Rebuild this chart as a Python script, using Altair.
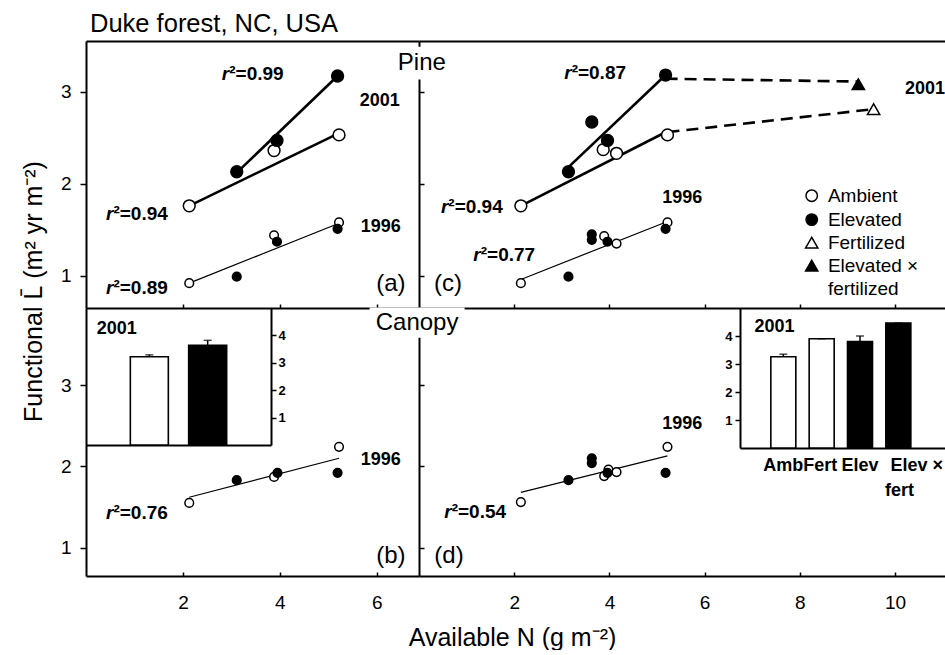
import altair as alt
import pandas as pd

FONT = "Liberation Sans"

# ================= data =================
# ---- (a) Pine, ambient vs elevated CO2 ----
a96_amb_x = [2.13, 3.88, 5.22]
a96_amb_y = [0.92, 1.44, 1.58]
a96_elev_x = [3.11, 3.94, 5.19]
a96_elev_y = [0.99, 1.37, 1.51]
a01_amb_x = [2.13, 3.88, 5.22]
a01_amb_y = [1.76, 2.36, 2.53]
a01_elev_x = [3.11, 3.94, 5.19]
a01_elev_y = [2.13, 2.47, 3.17]
a_fit96_x, a_fit96_y = [2.13, 5.22], [0.92, 1.57]
a_fit01amb_x, a_fit01amb_y = [2.13, 5.22], [1.76, 2.55]
a_fit01elev_x, a_fit01elev_y = [3.11, 5.19], [2.12, 3.17]

# ---- (c) Pine, CO2 x fertilization ----
c96_amb_x = [2.14, 3.89, 4.15, 5.22]
c96_amb_y = [0.92, 1.43, 1.35, 1.58]
c96_elev_x = [3.14, 3.63, 3.63, 3.96, 5.18]
c96_elev_y = [0.99, 1.45, 1.39, 1.37, 1.51]
c01_amb_x = [2.14, 3.87, 4.15, 5.22]
c01_amb_y = [1.76, 2.37, 2.33, 2.53]
c01_elev_x = [3.14, 3.63, 3.96, 5.18]
c01_elev_y = [2.13, 2.67, 2.47, 3.18]
c01_fert_x, c01_fert_y = [9.55], [2.81]
c01_ef_x, c01_ef_y = [9.23], [3.08]
c_fit96_x, c_fit96_y = [2.14, 5.22], [0.96, 1.59]
c_fit01amb_x, c_fit01amb_y = [2.14, 5.22], [1.76, 2.57]
c_fit01elev_x, c_fit01elev_y = [3.08, 5.18], [2.15, 3.18]
c_dash_amb_x, c_dash_amb_y = [5.22, 9.55], [2.56, 2.81]
c_dash_elev_x, c_dash_elev_y = [5.18, 9.23], [3.14, 3.11]

# ---- (b) Canopy, ambient vs elevated ----
b96_amb_x = [2.13, 3.88, 5.22]
b96_amb_y = [1.55, 1.87, 2.24]
b96_elev_x = [3.11, 3.95, 5.19]
b96_elev_y = [1.83, 1.92, 1.92]
b_fit96_x, b_fit96_y = [2.13, 5.22], [1.62, 2.10]

# ---- (d) Canopy, CO2 x fertilization ----
d96_amb_x = [2.14, 3.89, 3.98, 4.15, 5.22]
d96_amb_y = [1.56, 1.88, 1.96, 1.93, 2.24]
d96_elev_x = [3.14, 3.63, 3.63, 3.96, 5.18]
d96_elev_y = [1.83, 2.10, 2.04, 1.92, 1.92]
d_fit96_x, d_fit96_y = [2.14, 5.22], [1.68, 2.13]

# ---- insets (2001 canopy) ----
b_ins_pos = [1, 2]
b_ins_val = [3.22, 3.64]
b_ins_top = [3.29, 3.82]
b_ins_fill = ["white", "black"]

d_ins_pos = [1, 2, 3, 4]
d_ins_val = [3.26, 3.90, 3.80, 4.46]
d_ins_top = [3.35, 3.90, 4.00, 4.46]
d_ins_fill = ["white", "white", "black", "black"]
d_ins_labels = ["Amb", "Fert", "Elev", "Elev ×", "fert"]
d_ins_label_x = [1.0, 1.96, 3.0, 4.48, 4.03]
d_ins_label_y = [-0.64, -0.64, -0.64, -0.64, -1.54]

# ---- annotations (text, x, y) in data units ----
a_r2 = [("0.99", 3.44, 3.19), ("0.94", 1.05, 1.67), ("0.89", 1.05, 0.87)]
a_year = [("2001", 6.06, 2.90), ("1996", 6.08, 1.53)]
a_letter = [("(a)", 6.29, 0.91)]
c_r2 = [("0.87", 3.70, 3.20), ("0.94", 1.11, 1.75), ("0.77", 1.79, 1.23)]
c_year = [("1996", 5.53, 1.85)]
c_year_cut = [("2001", 10.63, 3.03)]
c_letter = [("(c)", 0.61, 0.91)]
c_head = [("Pine", 0.06, 3.31)]
b_r2 = [("0.76", 1.05, 1.43)]
b_year = [("1996", 6.08, 2.08)]
b_letter = [("(b)", 6.29, 0.90)]
d_r2 = [("0.54", 1.18, 1.44)]
d_year = [("1996", 5.53, 2.52)]
d_letter = [("(d)", 0.63, 0.90)]
d_head = [("Canopy", -0.04, 3.77)]

leg_trt = ["Ambient", "Elevated", "Fertilized", "Elevated × fertilized"]
leg_sym_x = 8.25
leg_sym_y = [1.87, 1.61, 1.36, 1.11]
leg_text = ["Ambient", "Elevated", "Fertilized", "Elevated ×", "fertilized"]
leg_text_x = 8.59
leg_text_y = [1.87, 1.61, 1.36, 1.11, 0.86]

Y_TITLE = "Functional L̄ (m² yr m⁻²)"
X_TITLE = "Available N (g m⁻²)"
MAIN_TITLE = "Duke forest, NC, USA"

# ================= helpers =================
FILL = {"Ambient": "white", "Elevated": "black", "Fertilized": "white",
        "Elevated × fertilized": "black"}
SHAPE = {"Ambient": "circle", "Elevated": "circle", "Fertilized": "triangle-up",
         "Elevated × fertilized": "triangle-up"}
SIZE = {"1996": 75, "2001": 140, "leg": 130}
TRI_SIZE = 150

VW, VH = 859, 535          # whole plotting area
W1, H1 = 333, 267          # left column width / top row height


def sc(dom, rng):
    return alt.Scale(domain=dom, range=rng, nice=False, zero=False)


XS_L = sc([0, 6.87], [0, W1])
XS_R = sc([0, 11.05], [W1, VW])
YS_T = sc([0.65, 3.55], [H1, 0])
YS_B = sc([0.65, 3.95], [VH, H1])


def pts(groups):
    rows = []
    for xs, ys, trt, yr in groups:
        for x, y in zip(xs, ys):
            sz = SIZE[yr] if SHAPE[trt] == "circle" else TRI_SIZE
            rows.append({"x": x, "y": y, "fill": FILL[trt], "shape": SHAPE[trt], "size": sz})
    return pd.DataFrame(rows)


def lines(groups):
    rows = []
    for i, (xs, ys) in enumerate(groups):
        for x, y in zip(xs, ys):
            rows.append({"x": x, "y": y, "grp": i})
    return pd.DataFrame(rows)


def tdf(items, prefix=""):
    return pd.DataFrame([{"label": prefix + l, "x": x, "y": y} for l, x, y in items])


DOM = dict(domainColor="black", domainWidth=2, grid=False)
TITLE_STYLE = dict(titleFontSize=25, titleFontWeight="normal", titleFont=FONT,
                   titleColor="black", titleAlign="center", titleBaseline="middle")


def ax_top(vals, off, ticks=True, domain=True):
    kw = dict(orient="top", offset=off, labels=False, domain=domain, title=None, **DOM)
    if ticks:
        kw.update(values=vals, tickSize=4, tickWidth=1.5, tickColor="black")
    else:
        kw.update(ticks=False)
    return alt.Axis(**kw)


def ax_bottom_lab(vals, with_title=False):
    kw = dict(orient="bottom", values=vals, ticks=False, tickSize=0, labelFontSize=19,
              labelPadding=17, labelColor="black", labelFont=FONT, labelFlush=False,
              domain=True, **DOM)
    if with_title:
        kw.update(title=X_TITLE, titleX=426, titleY=61, titleAngle=0, **TITLE_STYLE)
    else:
        kw.update(title=None)
    return alt.Axis(**kw)


def ax_left_lab(with_title=False):
    kw = dict(orient="left", values=[1, 2, 3], tickSize=6, tickWidth=1.5,
              tickColor="black", labelFontSize=19, labelPadding=9, labelColor="black",
              labelFont=FONT, domain=True, **DOM)
    if with_title:
        kw.update(title=Y_TITLE, titleX=-53, titleY=250, titleAngle=270, **TITLE_STYLE)
    else:
        kw.update(title=None)
    return alt.Axis(**kw)


def ax_right_in():
    return alt.Axis(orient="right", offset=-(VW - W1), values=[1, 2, 3], labels=False,
                    tickSize=5, tickWidth=1.5, tickColor="black", domain=True, title=None,
                    **DOM)


R2_DX = -23.5   # shift so that "r" + "²=value" is centred on the anchor


def panel(xs, ys, axx_line, axx_pts, axy, thin, thick, dashed, points, r2, texts, extra=()):
    def X(ax):
        return alt.X("x:Q", scale=xs, axis=ax)

    def Y(ax):
        return alt.Y("y:Q", scale=ys, axis=ax)

    layers = [alt.Chart(thin).mark_line(color="black", strokeWidth=1.2)
              .encode(x=X(axx_line), y=Y(None), detail="grp:N")]
    if thick is not None:
        layers.append(alt.Chart(thick).mark_line(color="black", strokeWidth=2.6)
                      .encode(x=X(None), y=Y(None), detail="grp:N"))
    if dashed is not None:
        layers.append(alt.Chart(dashed).mark_line(color="black", strokeWidth=2.6,
                                                  strokeDash=[12, 7])
                      .encode(x=X(None), y=Y(None), detail="grp:N"))
    layers.append(alt.Chart(points).mark_point(filled=True, stroke="black", strokeWidth=1.5,
                                               opacity=1)
                  .encode(x=X(axx_pts), y=Y(axy),
                          fill=alt.Fill("fill:N", scale=None),
                          shape=alt.Shape("shape:N", scale=None),
                          size=alt.Size("size:Q", scale=None)))
    # r² labels: italic "r" followed by upright "²=value"
    rdf = tdf(r2, prefix="²=")
    layers.append(alt.Chart(rdf).mark_text(font=FONT, color="black", fontSize=19,
                                           fontWeight="bold", fontStyle="italic",
                                           align="right", baseline="middle", dx=R2_DX)
                  .encode(x=X(None), y=Y(None), text=alt.value("r")))
    layers.append(alt.Chart(rdf).mark_text(font=FONT, color="black", fontSize=19,
                                           fontWeight="bold", align="left",
                                           baseline="middle", dx=R2_DX)
                  .encode(x=X(None), y=Y(None), text="label:N"))
    for df, kw in texts:
        if kw.get("box"):
            b = kw["box"]
            layers.append(alt.Chart(df).mark_point(shape=b[0], size=b[1], filled=True,
                                                   fill="white", strokeWidth=0, opacity=1)
                          .encode(x=X(None), y=Y(None)))
            kw = {k: v for k, v in kw.items() if k != "box"}
        base = dict(font=FONT, color="black", align="center", baseline="middle")
        base.update(kw)
        layers.append(alt.Chart(df).mark_text(**base)
                      .encode(x=X(None), y=Y(None), text="label:N"))
    layers.extend(extra)
    return alt.layer(*layers).resolve_axis(x="independent", y="independent")


YR = dict(fontSize=18, fontWeight="bold")
LET = dict(fontSize=24, fontWeight="normal")
PINE_BOX = ("M-1,-0.61H1V0.61H-1Z", 2916)
CAN_BOX = ("M-1,-0.32H1V0.32H-1Z", 9025)

# ================= panel (a) =================
pa = panel(
    XS_L, YS_T, ax_top([2, 4, 6], -H1), ax_top(None, 0, ticks=False),
    ax_left_lab(with_title=True),
    lines([(a_fit96_x, a_fit96_y)]),
    lines([(a_fit01amb_x, a_fit01amb_y), (a_fit01elev_x, a_fit01elev_y)]),
    None,
    pts([(a96_amb_x, a96_amb_y, "Ambient", "1996"),
         (a96_elev_x, a96_elev_y, "Elevated", "1996"),
         (a01_amb_x, a01_amb_y, "Ambient", "2001"),
         (a01_elev_x, a01_elev_y, "Elevated", "2001")]),
    a_r2,
    [(tdf(a_year), YR), (tdf(a_letter), LET)])

# ================= panel (c) =================
leg_sym = pd.DataFrame({"x": [leg_sym_x] * 4, "y": leg_sym_y,
                        "fill": [FILL[t] for t in leg_trt],
                        "shape": [SHAPE[t] for t in leg_trt],
                        "size": [SIZE["leg"] if SHAPE[t] == "circle" else TRI_SIZE
                                 for t in leg_trt]})
leg_lab = pd.DataFrame({"x": [leg_text_x] * 5, "y": leg_text_y, "label": leg_text})
legend_layers = [
    alt.Chart(leg_sym).mark_point(filled=True, stroke="black", strokeWidth=1.5, opacity=1)
    .encode(x=alt.X("x:Q", scale=XS_R, axis=None), y=alt.Y("y:Q", scale=YS_T, axis=None),
            fill=alt.Fill("fill:N", scale=None), shape=alt.Shape("shape:N", scale=None),
            size=alt.Size("size:Q", scale=None)),
    alt.Chart(leg_lab).mark_text(font=FONT, fontSize=19, align="left", baseline="middle",
                                 color="black")
    .encode(x=alt.X("x:Q", scale=XS_R, axis=None), y=alt.Y("y:Q", scale=YS_T, axis=None),
            text="label:N"),
]
pc = panel(
    XS_R, YS_T, ax_top([2, 4, 6, 8, 10], -H1), ax_top(None, 0, ticks=False), ax_right_in(),
    lines([(c_fit96_x, c_fit96_y)]),
    lines([(c_fit01amb_x, c_fit01amb_y), (c_fit01elev_x, c_fit01elev_y)]),
    lines([(c_dash_amb_x, c_dash_amb_y), (c_dash_elev_x, c_dash_elev_y)]),
    pts([(c96_amb_x, c96_amb_y, "Ambient", "1996"),
         (c96_elev_x, c96_elev_y, "Elevated", "1996"),
         (c01_amb_x, c01_amb_y, "Ambient", "2001"),
         (c01_elev_x, c01_elev_y, "Elevated", "2001"),
         (c01_fert_x, c01_fert_y, "Fertilized", "2001"),
         (c01_ef_x, c01_ef_y, "Elevated × fertilized", "2001")]),
    c_r2,
    [(tdf(c_year), YR), (tdf(c_year_cut), dict(YR, clip=True)),
     (tdf(c_letter), LET), (tdf(c_head), dict(LET, box=PINE_BOX))],
    extra=legend_layers)

# ================= panel (b) =================
pb = panel(
    XS_L, YS_B, ax_top([2, 4, 6], -VH, domain=False), ax_bottom_lab([2, 4, 6], True),
    ax_left_lab(),
    lines([(b_fit96_x, b_fit96_y)]), None, None,
    pts([(b96_amb_x, b96_amb_y, "Ambient", "1996"),
         (b96_elev_x, b96_elev_y, "Elevated", "1996")]),
    b_r2,
    [(tdf(b_year), YR), (tdf(b_letter), LET)])

# ================= panel (d) =================
pdd = panel(
    XS_R, YS_B, ax_top([2, 4, 6, 8, 10], -VH, domain=False), ax_bottom_lab([2, 4, 6, 8, 10]),
    ax_right_in(),
    lines([(d_fit96_x, d_fit96_y)]), None, None,
    pts([(d96_amb_x, d96_amb_y, "Ambient", "1996"),
         (d96_elev_x, d96_elev_y, "Elevated", "1996")]),
    d_r2,
    [(tdf(d_year), YR), (tdf(d_letter), LET), (tdf(d_head), dict(LET, box=CAN_BOX))])


# ================= insets =================
def inset(pos, val, top, fill, xsc, ysc, axx, axy, bar_size, txt_layers):
    df = pd.DataFrame({"x": pos, "v": val, "top": top, "fill": fill})
    ls = [
        alt.Chart(df).mark_bar(size=bar_size, stroke="black", strokeWidth=1.6)
        .encode(x=alt.X("x:Q", scale=xsc, axis=axx), y=alt.Y("v:Q", scale=ysc, axis=axy),
                fill=alt.Fill("fill:N", scale=None)),
        alt.Chart(df).mark_rule(color="black", strokeWidth=1.5)
        .encode(x=alt.X("x:Q", scale=xsc, axis=None), y=alt.Y("v:Q", scale=ysc, axis=None),
                y2="top:Q"),
        alt.Chart(df).mark_tick(orient="horizontal", size=8, thickness=1.5, color="black")
        .encode(x=alt.X("x:Q", scale=xsc, axis=None), y=alt.Y("top:Q", scale=ysc, axis=None)),
    ]
    for t, kw in txt_layers:
        base = dict(font=FONT, color="black", baseline="middle", fontWeight="bold", fontSize=18)
        base.update(kw)
        ls.append(alt.Chart(t).mark_text(**base)
                  .encode(x=alt.X("x:Q", scale=xsc, axis=None),
                          y=alt.Y("v:Q", scale=ysc, axis=None), text="label:N"))
    return alt.layer(*ls).resolve_axis(x="independent", y="independent")


INS_AX = dict(tickSize=5, tickWidth=1.5, tickColor="black", labelFontSize=13,
              labelFontWeight="bold", labelColor="black", labelFont=FONT, domain=True,
              values=[1, 2, 3, 4], title=None, **DOM)
INS_X = dict(ticks=False, labels=False, domain=True, title=None, **DOM)

B_IN_W, B_IN_H = 185, 137
b_ins = inset(
    b_ins_pos, b_ins_val, b_ins_top, b_ins_fill,
    alt.Scale(domain=[0, 3], range=[0, B_IN_W], nice=False, zero=False),
    alt.Scale(domain=[0, 5], range=[H1 + B_IN_H, H1], nice=False),
    alt.Axis(orient="bottom", offset=-(VH - H1 - B_IN_H), **INS_X),
    alt.Axis(orient="right", offset=-(VW - B_IN_W), labelPadding=2, **INS_AX),
    38,
    [(pd.DataFrame({"label": ["2001"], "x": [0.10], "v": [4.22]}), dict(align="left"))])

D_IN_X0, D_IN_H = W1 + 321, 140
d_ins = inset(
    d_ins_pos, d_ins_val, d_ins_top, d_ins_fill,
    alt.Scale(domain=[0, (VW - D_IN_X0) / 40.3], range=[D_IN_X0, VW], nice=False, zero=False),
    alt.Scale(domain=[0, 5], range=[H1 + D_IN_H, H1], nice=False),
    alt.Axis(orient="bottom", offset=-(VH - H1 - D_IN_H), **INS_X),
    alt.Axis(orient="left", offset=-D_IN_X0, labelPadding=3, **INS_AX),
    25,
    [(pd.DataFrame({"label": ["2001"], "x": [0.25], "v": [4.32]}), dict(align="left")),
     (pd.DataFrame({"label": d_ins_labels, "x": d_ins_label_x, "v": d_ins_label_y}),
      dict(align="center", clip=True))])

# ================= assemble =================
chart = alt.layer(pa, pc, pb, pdd, b_ins, d_ins).resolve_scale(
    x="independent", y="independent").properties(
    width=VW, height=VH,
    padding={"left": 20, "top": 11, "right": 0, "bottom": 0},
    title=alt.TitleParams(MAIN_TITLE, anchor="start", frame="group", fontSize=25.5,
                          fontWeight="normal", font=FONT, color="black", offset=4, dx=4)) \
    .configure(font=FONT) \
    .configure_view(strokeWidth=0) \
    .configure_axis(labelFont=FONT, labelColor="black", tickColor="black", grid=False)

chart.save("out.html", embed_options={"renderer": "svg", "actions": False})
